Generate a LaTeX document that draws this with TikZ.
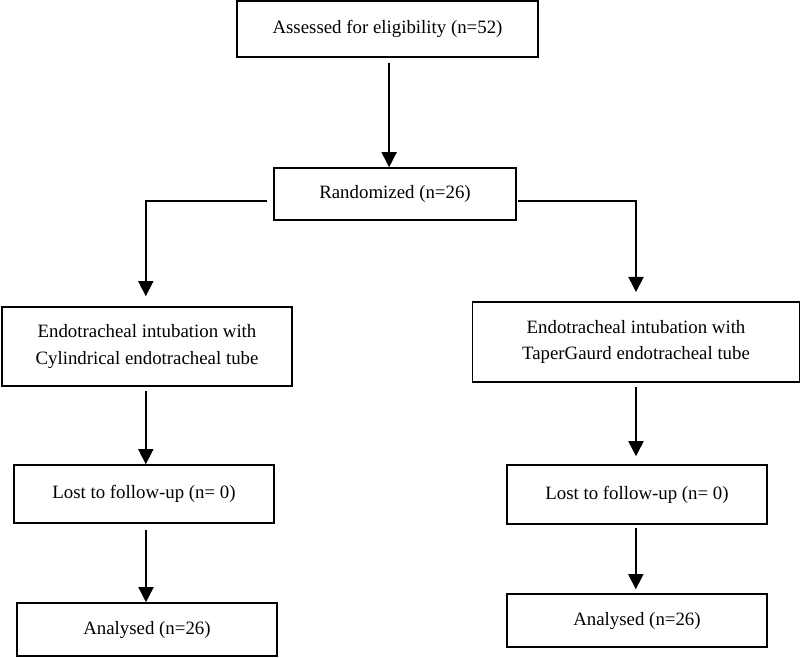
\documentclass[tikz,border=0pt]{standalone}
\usepackage{fontspec}
\setmainfont{Liberation Serif}
\usetikzlibrary{arrows.meta}
\tikzset{
	flowbox/.style={draw, line width=1.1pt, align=center, inner sep=0pt, font=\fontsize{13.4}{19}\selectfont},
	flowarrow/.style={line width=1.1pt, -{Triangle[width=0.38cm,length=0.38cm]}}
}

\begin{document}
\begin{tikzpicture}[x=0.025cm, y=-0.025cm]
			%%%%% START %%%%%
			\useasboundingbox (0, 0) rectangle (800, 657);
			
			\node[flowbox, minimum width=7.525cm, minimum height=1.4cm] (assess) at (387.5, 29) {Assessed for eligibility (n=52)};
			\node[flowbox, minimum width=6.05cm, minimum height=1.3cm] (rand) at (395, 194) {Randomized (n=26)};
			
			\node[flowbox, minimum width=7.25cm, minimum height=1.975cm] (cyl) at (147, 346.5) {Endotracheal intubation with\\Cylindrical endotracheal tube};
			\node[flowbox, minimum width=8.175cm, minimum height=2.0cm] (taper) at (636, 342) {Endotracheal intubation with\\TaperGaurd endotracheal tube};
			
			\node[flowbox, minimum width=6.5cm, minimum height=1.45cm] (lostA) at (144, 494) {Lost to follow-up (n= 0)};
			\node[flowbox, minimum width=6.5cm, minimum height=1.475cm] (lostB) at (637, 494.5) {Lost to follow-up (n= 0)};
			
			\node[flowbox, minimum width=6.5cm, minimum height=1.325cm] (anaA) at (147, 629.5) {Analysed (n=26)};
			\node[flowbox, minimum width=6.5cm, minimum height=1.325cm] (anaB) at (637, 620.5) {Analysed (n=26)};
			
			\draw[flowarrow] ([xshift=0.04cm, yshift=-0.12cm]assess.south) -- ([xshift=0.04cm]assess.south |- rand.north);
			
			\draw[flowarrow] ([xshift=-0.15cm, yshift=-0.18cm]rand.west) -| ([xshift=-0.03cm, yshift=0.25cm]cyl.north);
			\draw[flowarrow] ([xshift=0.03cm, yshift=-0.18cm]rand.east) -| ([yshift=0.23cm]taper.north);
			
			\draw[flowarrow] ([xshift=-0.03cm, yshift=-0.1cm]cyl.south) -- ([xshift=-0.03cm]cyl.south |- lostA.north);
			\draw[flowarrow] ([xshift=0.05cm, yshift=-0.15cm]lostA.south) -- ([xshift=0.05cm]lostA.south |- anaA.north);
			
			\draw[flowarrow] ([yshift=-0.1cm]taper.south) -- ([yshift=0.2cm]taper.south |- lostB.north);
			\draw[flowarrow] ([xshift=-0.03cm, yshift=-0.08cm]lostB.south) -- ([xshift=-0.03cm, yshift=0.1cm]lostB.south |- anaB.north);
			
			%%%%% END %%%%%
		\end{tikzpicture}
\end{document}
